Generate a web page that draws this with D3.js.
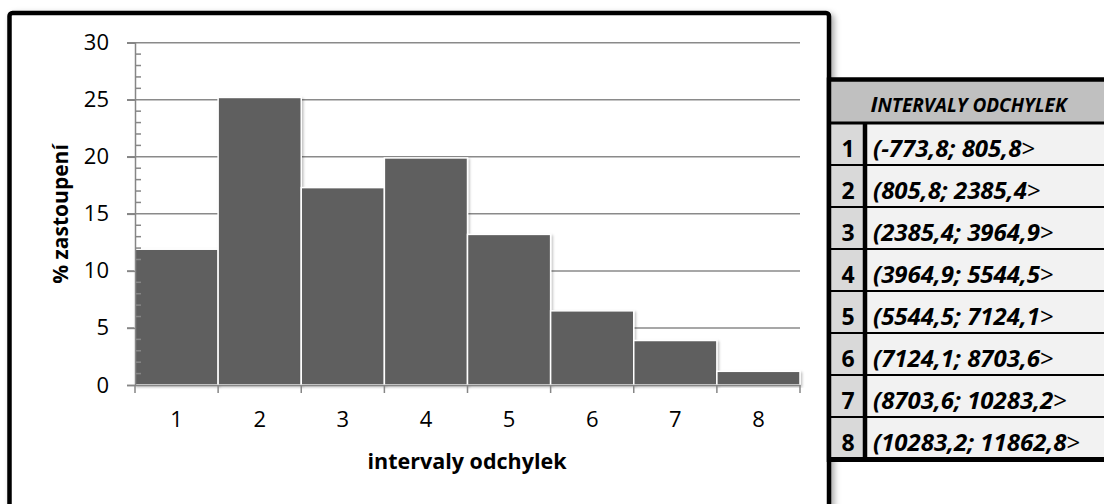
<!DOCTYPE html>
<html><head><meta charset="utf-8">
<script src="https://cdn.jsdelivr.net/npm/d3@7"></script>
<style>
html,body{margin:0;padding:0;background:#fff;}
svg{display:block;}
text{font-family:"Open Sans","Noto Sans",sans-serif;}
</style></head>
<body>
<svg id="c" width="1104" height="504"></svg>
<script>
const categories = ["1","2","3","4","5","6","7","8"];
const values = [11.9, 25.2, 17.3, 19.9, 13.2, 6.5, 3.9, 1.2];
const yTicks = [0,5,10,15,20,25,30];
const intervals = ["(-773,8; 805,8", "(805,8; 2385,4", "(2385,4; 3964,9", "(3964,9; 5544,5",
  "(5544,5; 7124,1", "(7124,1; 8703,6", "(8703,6; 10283,2", "(10283,2; 11862,8"];
const tableTitle = "Intervaly odchylek";
const yLabel = "% zastoupení";
const xLabel = "intervaly odchylek";

const svg = d3.select("#c");
const defs = svg.append("defs");
const sh = defs.append("filter").attr("id","sh").attr("x","-10%").attr("y","-10%").attr("width","130%").attr("height","130%");
sh.append("feDropShadow").attr("dx",3).attr("dy",3).attr("stdDeviation",3).attr("flood-color","#000").attr("flood-opacity",0.35);
const bsh = defs.append("filter").attr("id","bsh").attr("x","-10%").attr("y","-10%").attr("width","130%").attr("height","130%");
bsh.append("feDropShadow").attr("dx",1.5).attr("dy",1.5).attr("stdDeviation",1.2).attr("flood-color","#000").attr("flood-opacity",0.25);

// chart frame
svg.append("rect").attr("x",9.5).attr("y",13).attr("width",819.5).attr("height",540)
  .attr("rx",3).attr("fill","#fff").attr("stroke","#000").attr("stroke-width",4.5).attr("filter","url(#sh)");

const x0 = 135, x1 = 800, y0 = 385, yTop = 42.7;
const x = d3.scaleBand().domain(categories).range([x0,x1]).padding(0);
const y = d3.scaleLinear().domain([0,30]).range([y0,yTop]);

const g = svg.append("g");
g.selectAll(".grid").data(yTicks.filter(d=>d>0)).join("line")
  .attr("x1",127).attr("x2",x1).attr("y1",d=>y(d)).attr("y2",d=>y(d))
  .attr("stroke","#8a8a8a").attr("stroke-width",1.5);

g.selectAll(".bar").data(values).join("rect")
  .attr("x",(d,i)=>x(categories[i])).attr("width",x.bandwidth())
  .attr("y",d=>y(d)).attr("height",d=>y0-y(d))
  .attr("fill","#5f5f5f").attr("stroke","#fff").attr("stroke-width",1.5).attr("filter","url(#bsh)");

const yAxis = d3.axisLeft(y).tickValues(yTicks).tickSize(8).tickPadding(18);
const ya = svg.append("g").attr("transform",`translate(${x0},0)`).call(yAxis);
ya.select(".domain").attr("stroke","#868686").attr("stroke-width",1.5);
ya.selectAll(".tick line").attr("stroke","#868686").attr("stroke-width",1.5);
ya.selectAll(".tick text").attr("font-size",22).attr("fill","#000")
  .attr("font-family","'Open Sans',sans-serif");
const minor = d3.range(0,31).filter(d=>d%5!==0);
svg.append("g").selectAll("line").data(minor).join("line")
  .attr("x1",x0).attr("x2",x0+6).attr("y1",d=>y(d)).attr("y2",d=>y(d))
  .attr("stroke","#868686").attr("stroke-width",1.5);

const xa = svg.append("g").attr("transform",`translate(0,${y0})`)
  .call(d3.axisBottom(x).tickSize(0).tickPadding(26));
xa.select(".domain").attr("stroke","#868686").attr("stroke-width",1.5);
xa.selectAll(".tick text").attr("font-size",22).attr("fill","#000")
  .attr("font-family","'Open Sans',sans-serif");
const bounds = categories.map(c=>x(c)).concat([x1]);
svg.append("g").selectAll("line").data(bounds).join("line")
  .attr("x1",d=>d).attr("x2",d=>d).attr("y1",y0).attr("y2",y0+8)
  .attr("stroke","#868686").attr("stroke-width",1.5);

svg.append("text").attr("x",467).attr("y",469).attr("text-anchor","middle")
  .attr("font-size",21.5).attr("font-weight","bold").text(xLabel);
svg.append("text").attr("transform","translate(68,214) rotate(-90)").attr("text-anchor","middle")
  .attr("font-size",21).attr("font-weight","bold").text(yLabel);

// table
const tx = 829, tRight = 1110, numW = 36;
const headTop = 79.5, headBot = 123, rowH = 42;
const tg = svg.append("g");
tg.append("rect").attr("x",tx).attr("y",headTop).attr("width",tRight-tx).attr("height",headBot-headTop).attr("fill","#c0c0c0");
tg.selectAll(".num").data(intervals).join("rect")
  .attr("x",tx).attr("y",(d,i)=>headBot+i*rowH).attr("width",numW).attr("height",rowH).attr("fill","#d9d9d9");
tg.selectAll(".cell").data(intervals).join("rect")
  .attr("x",tx+numW).attr("y",(d,i)=>headBot+i*rowH).attr("width",tRight-tx-numW).attr("height",rowH).attr("fill","#f2f2f2");
tg.append("line").attr("x1",tx).attr("x2",tRight).attr("y1",headTop).attr("y2",headTop).attr("stroke","#000").attr("stroke-width",4.5);
tg.append("line").attr("x1",tx).attr("x2",tRight).attr("y1",headBot).attr("y2",headBot).attr("stroke","#000").attr("stroke-width",3);
tg.selectAll(".hl").data(d3.range(1,intervals.length)).join("line")
  .attr("x1",tx).attr("x2",tRight).attr("y1",d=>headBot+d*rowH).attr("y2",d=>headBot+d*rowH)
  .attr("stroke","#000").attr("stroke-width",2);
const tBot = headBot + intervals.length*rowH;
tg.append("line").attr("x1",tx-2).attr("x2",tRight).attr("y1",tBot+0.5).attr("y2",tBot+0.5).attr("stroke","#000").attr("stroke-width",5);
tg.append("line").attr("x1",tx+numW).attr("x2",tx+numW).attr("y1",headBot).attr("y2",tBot).attr("stroke","#000").attr("stroke-width",4.5);
tg.append("line").attr("x1",tx).attr("x2",tx).attr("y1",headTop-2).attr("y2",tBot+3).attr("stroke","#000").attr("stroke-width",4.5);

// header in small caps: only the original capital is large
const ht = tg.append("text").attr("x",(tx+tRight)/2-1).attr("y",headTop+32).attr("text-anchor","middle")
  .attr("font-weight","bold").attr("font-style","italic");
ht.append("tspan").attr("font-size",22).text(tableTitle[0].toUpperCase());
ht.append("tspan").attr("font-size",19).text(tableTitle.slice(1).toUpperCase());
tg.selectAll(".nt").data(categories).join("text")
  .attr("x",tx+numW/2+1).attr("y",(d,i)=>headBot+i*rowH+34).attr("text-anchor","middle")
  .attr("font-size",23).attr("font-weight","bold").text(d=>d);
const it = tg.selectAll(".it").data(intervals).join("text")
  .attr("x",tx+numW+8).attr("y",(d,i)=>headBot+i*rowH+34)
  .attr("font-size",24);
it.append("tspan").attr("font-weight","bold").attr("font-style","italic").text(d=>d);
it.append("tspan").text(">");
</script>
</body></html>
